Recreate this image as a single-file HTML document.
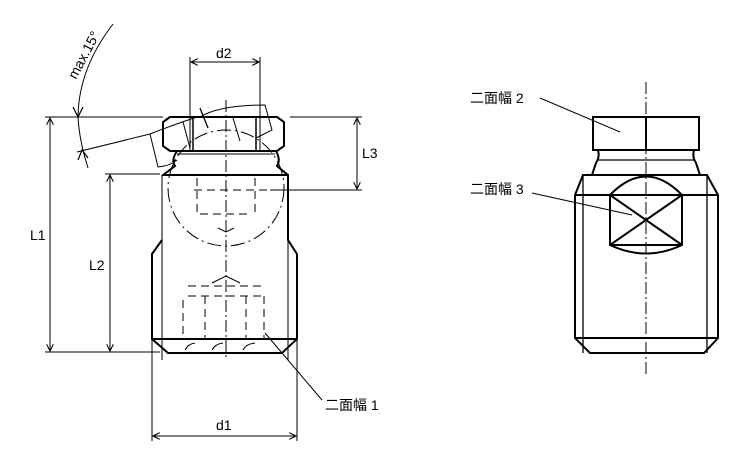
<!DOCTYPE html>
<html><head><meta charset="utf-8"><style>
html,body{margin:0;padding:0;background:#fff;}
svg{display:block;}
text{font-family:"Liberation Sans","Noto Sans CJK JP",sans-serif;font-size:14px;fill:#000;}
</style></head><body>
<svg width="750" height="450" viewBox="0 0 750 450" xmlns="http://www.w3.org/2000/svg">
<defs>
<marker id="a" viewBox="0 0 10 10" refX="10" refY="5" markerWidth="9" markerHeight="7" orient="auto-start-reverse" markerUnits="userSpaceOnUse"><path d="M0,0 L10,5 L0,10" fill="none" stroke="#000" stroke-width="1.5"/></marker>
</defs>
<g fill="none" stroke="#000" stroke-width="1">
<line x1="45" y1="117" x2="163" y2="117"/>
<line x1="45" y1="352" x2="160" y2="352"/>
<line x1="105" y1="174" x2="160" y2="174"/>
<line x1="290" y1="117" x2="362" y2="117"/>
<line x1="270" y1="190" x2="362" y2="190"/>
<line x1="190" y1="57" x2="190" y2="150"/>
<line x1="260" y1="57" x2="260" y2="150"/>
<line x1="152" y1="340" x2="152" y2="441"/>
<line x1="297" y1="340" x2="297" y2="441"/>
<line x1="50" y1="118" x2="50" y2="351" marker-start="url(#a)" marker-end="url(#a)"/>
<line x1="110" y1="175" x2="110" y2="351" marker-start="url(#a)" marker-end="url(#a)"/>
<line x1="357" y1="118" x2="357" y2="189" marker-start="url(#a)" marker-end="url(#a)"/>
<line x1="191" y1="62" x2="259" y2="62" marker-start="url(#a)" marker-end="url(#a)"/>
<line x1="153" y1="436" x2="296" y2="436" marker-start="url(#a)" marker-end="url(#a)"/>
<path d="M113,24 Q79,68 78,116 Q79,140 88,168"/>
<path d="M73,107 L78,117 L83,107" stroke-width="1.2"/>
<path d="M78,160 L82,150 L88,158" stroke-width="1.2"/>
<line x1="77" y1="152" x2="150" y2="134"/>
<path d="M150,134 L158,167 Q170,166 177,160"/>
<path d="M150,134 Q170,126 197,117"/>
<path d="M200,117 Q220,105 265,105 L272,130 L256,138"/>
<line x1="200" y1="108" x2="208" y2="128" stroke-width="1.3"/>
<line x1="233" y1="118" x2="240" y2="141"/>
<line x1="183" y1="122" x2="190" y2="148"/>
<line x1="265" y1="333" x2="322" y2="400"/>
<line x1="540" y1="98" x2="620" y2="132"/>
<line x1="532" y1="193" x2="632" y2="215"/>
<line x1="226" y1="100" x2="226" y2="360" stroke-dasharray="12,3,2,3"/>
<line x1="646" y1="82" x2="646" y2="375" stroke-dasharray="12,3,2,3"/>
<circle cx="226" cy="188" r="58" stroke-dasharray="14,4,2,4"/>
<g stroke-dasharray="8,5">
<line x1="194" y1="190" x2="270" y2="190"/>
<line x1="197" y1="178" x2="197" y2="215"/>
<line x1="255" y1="178" x2="255" y2="215"/>
<line x1="200" y1="214" x2="252" y2="214"/>
<line x1="188" y1="296" x2="262" y2="296"/>
<line x1="188" y1="286" x2="264" y2="286"/>
<line x1="183" y1="300" x2="183" y2="338"/>
<line x1="205" y1="296" x2="205" y2="338"/>
<line x1="246" y1="296" x2="246" y2="338"/>
<line x1="264" y1="296" x2="264" y2="338"/>
</g>
<path d="M218,228 L226,232 L234,228"/>
<path d="M212,283 L226,276 L240,283"/>
<line x1="162" y1="175" x2="162" y2="360"/>
<line x1="288" y1="175" x2="288" y2="360"/>
<line x1="177" y1="154" x2="275" y2="154"/>
</g>
<g fill="none" stroke="#000" stroke-width="2">
<path d="M170,117 L277,117 L284,122 L284,146 L277,151 L170,151 L163,146 L163,122 Z"/>
<line x1="193" y1="117" x2="193" y2="151" stroke-width="1.5"/>
<line x1="256" y1="117" x2="256" y2="151" stroke-width="1.5"/>
<path d="M177,151 Q171,160 175,166 L163,175"/>
<path d="M276,151 Q281,160 277,166 L288,175"/>
<path d="M162,175 L288,175 L288,240 L297,254 L297,339 L282,353 L168,353 L152,339 L152,254 L162,240"/>
<line x1="152" y1="339" x2="297" y2="339"/>
<path d="M185,350 Q188,344 195,343 M212,350 Q215,344 223,343 M243,350 Q246,344 255,343" stroke-width="1"/>
<path d="M593,117 L699,117 L699,150 L593,150 Z"/>
<line x1="646" y1="117" x2="646" y2="150"/>
<line x1="598" y1="160" x2="694" y2="160" stroke-width="1.3"/>
<path d="M598,150 Q600,157 596,163 L592,175"/>
<path d="M694,150 Q692,157 696,163 L700,175"/>
<path d="M583,175 L707,175 L718,195 L718,338 L704,353 L590,353 L575,338 L575,195 Z"/>
<line x1="575" y1="195" x2="718" y2="195"/>
<line x1="575" y1="338" x2="718" y2="338"/>
<line x1="583" y1="175" x2="583" y2="353" stroke-width="1.3"/>
<line x1="707" y1="175" x2="707" y2="353" stroke-width="1.3"/>
<rect x="610" y="195" width="72" height="50"/>
<path d="M610,195 Q646,158 682,195"/>
<path d="M610,245 Q646,262 682,245"/>
<line x1="610" y1="195" x2="682" y2="245"/>
<line x1="682" y1="195" x2="610" y2="245"/>
</g>
<text x="216" y="58">d2</text>
<text x="30" y="240">L1</text>
<text x="89" y="270">L2</text>
<text x="362" y="158">L3</text>
<text x="216" y="430">d1</text>
<text transform="translate(76,80) rotate(-62)">max.15°</text>
<text x="325" y="410">二面幅 1</text>
<text x="470" y="103">二面幅 2</text>
<text x="470" y="194">二面幅 3</text>
</svg>
</body></html>
